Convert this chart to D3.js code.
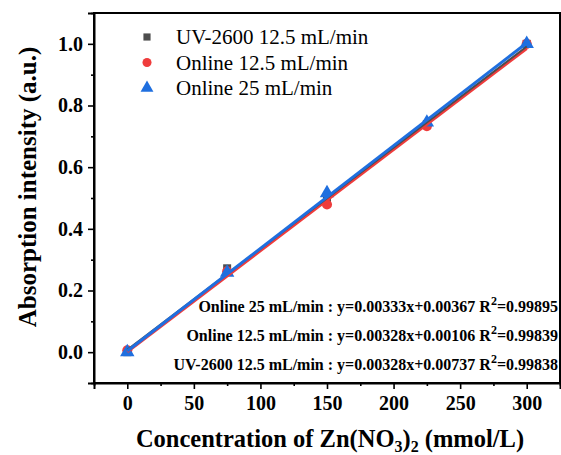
<!DOCTYPE html>
<html>
<head>
<meta charset="utf-8">
<script src="https://cdn.jsdelivr.net/npm/d3@7"></script>
<style>
  html, body { margin: 0; padding: 0; background: #fff; }
  svg { display: block; }
  text { font-family: "Liberation Serif", "Times New Roman", serif; }
</style>
</head>
<body>
<svg id="chart" width="561" height="455"></svg>
<script>
// Zn(NO3)2 concentrations (mmol/L)
const concentrations = [0, 75, 150, 225, 300];

// Normalised absorption intensity for each measurement setup
const uv2600 = [0.0, 0.272, 0.495, 0.740, 1.0];
const online125 = [0.006, 0.262, 0.479, 0.733, 1.0];
const online25 = [0.0, 0.258, 0.516, 0.745, 1.0];

// Linear fits: [slope, intercept, R^2]
const fitUV = [0.00328, 0.00737, 0.99838];
const fitOn125 = [0.00328, 0.00106, 0.99839];
const fitOn25 = [0.00333, 0.00367, 0.99895];

const seriesNames = ["UV-2600 12.5 mL/min", "Online 12.5 mL/min", "Online 25 mL/min"];
const xTicks = [0, 50, 100, 150, 200, 250, 300];
const yTicks = [0.0, 0.2, 0.4, 0.6, 0.8, 1.0];

const colors = ["#4d4d4d", "#ef3c3c", "#1f6fdf"];

const svg = d3.select("#chart");
const m = { left: 94, right: 560, top: 13, bottom: 383 };

const x = d3.scaleLinear().domain([-25, 325]).range([m.left, m.right]);
const y = d3.scaleLinear().domain([-0.1, 1.1]).range([m.bottom, m.top]);

// Frame
svg.append("rect")
  .attr("x", m.left).attr("y", m.top)
  .attr("width", m.right - m.left).attr("height", m.bottom - m.top)
  .attr("fill", "none").attr("stroke", "#000").attr("stroke-width", 2);

// X axis (major + minor ticks)
svg.append("g").attr("transform", `translate(0,${m.bottom})`)
  .call(d3.axisBottom(x).tickValues(xTicks).tickSize(6).tickPadding(7).tickFormat(d3.format("d")));
svg.append("g").attr("transform", `translate(0,${m.bottom})`)
  .call(d3.axisBottom(x).tickValues([-25, 25, 75, 125, 175, 225, 275, 325]).tickSize(3).tickFormat(""))
  .call(g => g.select(".domain").remove());

// Y axis
svg.append("g").attr("transform", `translate(${m.left},0)`)
  .call(d3.axisLeft(y).tickValues(yTicks).tickSize(6).tickPadding(5).tickFormat(d3.format(".1f")));
svg.append("g").attr("transform", `translate(${m.left},0)`)
  .call(d3.axisLeft(y).tickValues([-0.1, 0.1, 0.3, 0.5, 0.7, 0.9, 1.1]).tickSize(3).tickFormat(""))
  .call(g => g.select(".domain").remove());

svg.selectAll(".domain").attr("stroke", "#000").attr("stroke-width", 2);
svg.selectAll(".tick line").attr("stroke", "#000").attr("stroke-width", 1.6);
svg.selectAll(".tick text")
  .attr("font-family", "Liberation Serif, serif")
  .attr("font-weight", "bold").attr("font-size", 20).attr("fill", "#000");

// Axis titles
const xTitle = svg.append("text")
  .attr("x", (m.left + m.right) / 2 + 3).attr("y", 447)
  .attr("text-anchor", "middle")
  .attr("font-weight", "bold").attr("font-size", 24.5);
xTitle.append("tspan").text("Concentration of Zn(NO");
xTitle.append("tspan").attr("font-size", 16).attr("dy", 5).text("3");
xTitle.append("tspan").attr("dy", -5).text(")");
xTitle.append("tspan").attr("font-size", 16).attr("dy", 5).text("2");
xTitle.append("tspan").attr("dy", -5).text(" (mmol/L)");

svg.append("text")
  .attr("transform", `translate(36,${187}) rotate(-90)`)
  .attr("text-anchor", "middle")
  .attr("font-weight", "bold").attr("font-size", 25)
  .text("Absorption intensity (a.u.)");

// Data points
const plot = svg.append("g");
const series = [uv2600, online125, online25];
const symbols = [d3.symbolSquare, d3.symbolCircle, d3.symbolTriangle];
const symSizes = [64, 80, 90];

series.forEach((vals, i) => {
  plot.selectAll(null)
    .data(concentrations.map((c, j) => [c, vals[j]]))
    .enter().append("path")
    .attr("d", d3.symbol().type(symbols[i]).size(symSizes[i]))
    .attr("transform", d => `translate(${x(d[0])},${y(d[1])})`)
    .attr("fill", colors[i]);
});

// Fit lines drawn over the points
const fits = [fitUV, fitOn125, fitOn25];
const line = d3.line().x(d => x(d[0])).y(d => y(d[1]));
[1, 0, 2].forEach(i => {
  const [a, b] = fits[i];
  const ends = [0, 300].map(c => [c, a * c + b]);
  plot.append("path")
    .attr("d", line(ends))
    .attr("stroke", colors[i]).attr("stroke-width", i === 0 ? 2 : 3)
    .attr("fill", "none");
});

// Legend
const legend = svg.append("g");
seriesNames.forEach((name, i) => {
  const ly = 37 + i * 25.5;
  legend.append("path")
    .attr("d", d3.symbol().type(symbols[i]).size(symSizes[i] * 0.8))
    .attr("transform", `translate(147,${ly})`)
    .attr("fill", colors[i]);
  legend.append("text")
    .attr("x", 176).attr("y", ly + 7)
    .attr("font-size", 21).attr("fill", "#000")
    .text(name);
});

// Fit equations, right-aligned inside the frame
const eqRows = [
  [seriesNames[2], fitOn25, 312],
  [seriesNames[1], fitOn125, 341],
  [seriesNames[0], fitUV, 370]
];
eqRows.forEach(([name, f, yy]) => {
  const t = svg.append("text")
    .attr("x", 558).attr("y", yy)
    .attr("text-anchor", "end")
    .attr("font-weight", "bold").attr("font-size", 16).attr("fill", "#000");
  t.append("tspan").text(`${name} : y=${f[0].toFixed(5)}x+${f[1].toFixed(5)} R`);
  t.append("tspan").attr("dy", -7).attr("font-size", 12).text("2");
  t.append("tspan").attr("dy", 7).text(`=${f[2].toFixed(5)}`);
});
</script>
</body>
</html>
